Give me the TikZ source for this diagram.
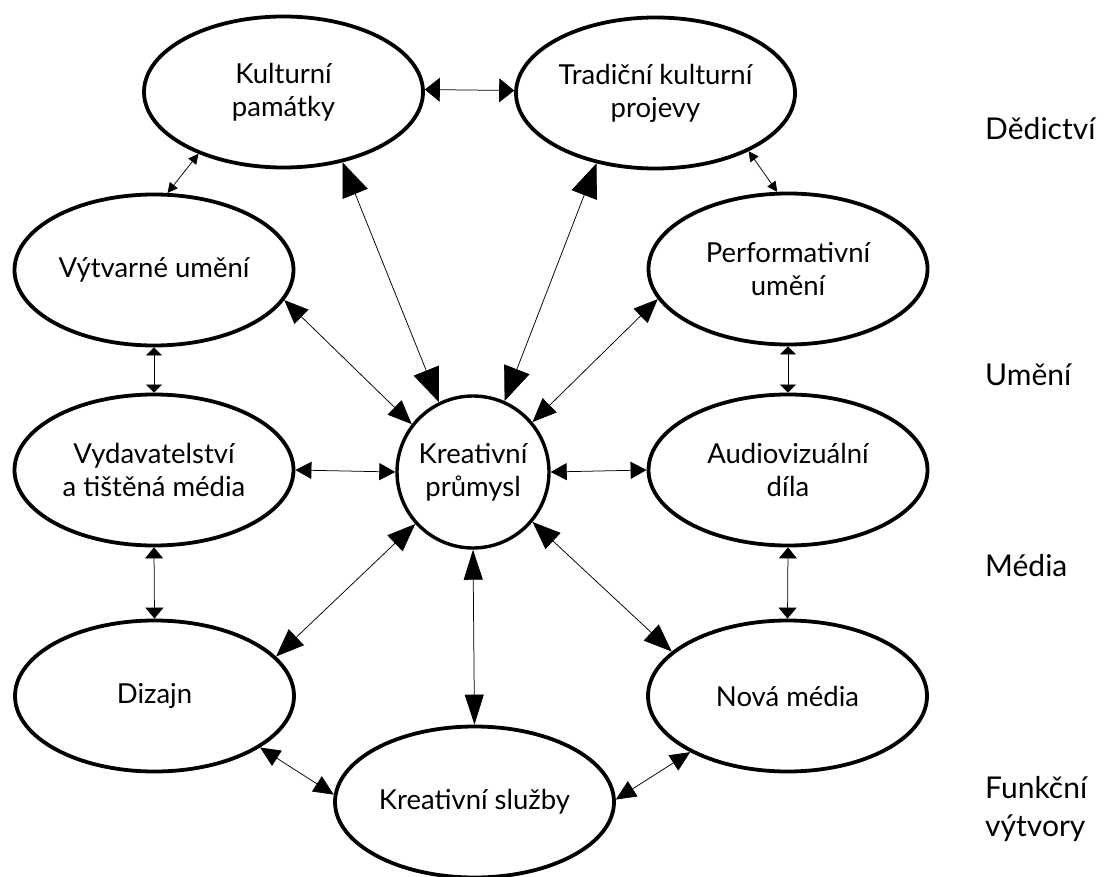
\documentclass[tikz,border=0pt]{standalone}
\usepackage{fontspec}
\setmainfont{Lato}
\usetikzlibrary{arrows.meta,shapes.geometric}
\begin{document}
\begin{tikzpicture}[x=1pt,y=-1pt,
  oval/.style={ellipse, draw, line width=3.8pt, minimum width=279pt, minimum height=151pt,
    inner sep=0pt, align=center, font=\fontsize{27.5}{33}\selectfont},
  hub/.style={circle, draw, line width=3.4pt, minimum size=152pt, inner sep=0pt,
    align=center, font=\fontsize{27.5}{33}\selectfont},
  lbl/.style={anchor=west, align=left, inner sep=0pt, font=\fontsize{30}{38}\selectfont},
  conn/.style={line width=0.75pt, draw=black},
  bigtip/.style={conn, {Triangle[length=34pt,width=27pt]}-{Triangle[length=34pt,width=27pt]}},
  dtip/.style={conn, {Triangle[length=28pt,width=22pt]}-{Triangle[length=28pt,width=22pt]}},
  midtip/.style={conn, {Triangle[length=24pt,width=20pt]}-{Triangle[length=24pt,width=20pt]}},
  kstip/.style={conn, {Triangle[length=30pt,width=19pt]}-{Triangle[length=30pt,width=19pt]}},
  sidetip/.style={conn, {Triangle[length=20pt,width=18pt]}-{Triangle[length=20pt,width=18pt]}},
  hortip/.style={conn, {Triangle[length=16pt,width=17pt]}-{Triangle[length=16pt,width=17pt]}},
  toptip/.style={conn, {Triangle[length=15pt,width=24pt]}-{Triangle[length=15pt,width=24pt]}},
  vtip/.style={conn, {Triangle[length=11pt,width=18pt]}-{Triangle[length=11pt,width=18pt]}},
  smalltip/.style={conn, {Triangle[length=8pt,width=16pt]}-{Triangle[length=8pt,width=16pt]}},
  tinytip/.style={conn, {Triangle[length=10pt,width=10pt]}-{Triangle[length=10pt,width=10pt]}}
]
\useasboundingbox (0,0) rectangle (1110,877);
\fill[white] (0,0) rectangle (1110,877);

\node[oval] (kp)  at (283.5,92) {Kulturní\\památky};
\node[oval] (tkp) at (655.5,93) {Tradiční kulturní\\projevy};
\node[oval] (vu)  at (154,270) {Výtvarné umění};
\node[oval] (pu)  at (788,269) {Performativní\\umění};
\node[oval] (vtm) at (154,470) {Vydavatelství\\a tištěná média};
\node[oval] (av)  at (788,470) {Audiovizuální\\díla};
\node[oval] (dz)  at (154.5,696) {Dizajn};
\node[oval] (nm)  at (787.5,696) {Nová média};
\node[oval] (ks)  at (474.5,802) {Kreativní služby};
\node[hub]  (c)   at (473,472) {Kreativní\\průmysl};

\node[lbl] (l1) at (985,129) {Dědictví};
\node[lbl] (l2) at (985,375) {Umění};
\node[lbl] (l3) at (985,566) {Média};
\node[lbl] (l4) at (985,809) {Funkční\\výtvory};

\draw[toptip] (kp.1) -- (tkp.179);
\draw[bigtip] (kp.-50.6) -- (c.116);
\draw[bigtip] (tkp.230.7) -- (c.66.6);
\draw[midtip] (vu.-13.2) -- (c.142.4);
\draw[midtip] (pu.193.3) -- (c.40);
\draw[hortip] (vtm.east) -- (c.west);
\draw[hortip] (av.west) -- (c.east);
\draw[smalltip] (vu.south) -- (vtm.north);
\draw[smalltip] (pu.south) -- (av.north);
\draw[vtip] (vtm.south) -- (dz.north);
\draw[vtip] (av.south) -- (nm.north);
\draw[dtip] (dz.18.7) -- (c.222.5);
\draw[dtip] (nm.159.7) -- (c.320);
\draw[kstip] (c.south) -- (ks.north);
\draw[sidetip] (dz.-26.9) -- (ks.177);
\draw[sidetip] (nm.210.3) -- (ks.1);
\draw[tinytip] (kp.216.9) -- (vu.80.5);
\draw[tinytip] (tkp.328) -- (pu.98);
\end{tikzpicture}
\end{document}
